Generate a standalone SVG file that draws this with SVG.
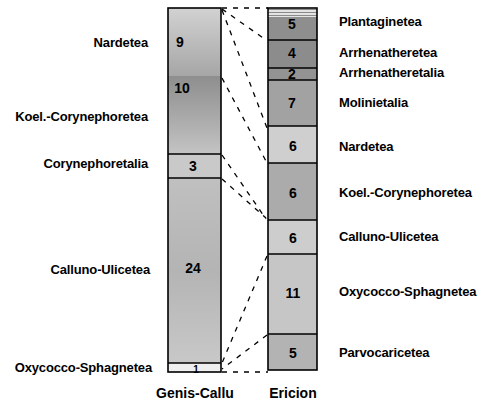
<svg xmlns="http://www.w3.org/2000/svg" width="494" height="414" viewBox="0 0 494 414">
<style>
.lbl{font-family:"Liberation Sans",Arial,sans-serif;font-weight:bold;font-size:13px;fill:#000;letter-spacing:-0.15px}
.num{font-family:"Liberation Sans",Arial,sans-serif;font-weight:bold;font-size:14px;fill:#000;text-anchor:middle}
.ttl{font-family:"Liberation Sans",Arial,sans-serif;font-weight:bold;font-size:14px;fill:#000;text-anchor:middle}
.sep{stroke:#000;stroke-width:1.6}
.box{fill:none;stroke:#000;stroke-width:1.6}
.dash{stroke:#000;stroke-width:1.3;stroke-dasharray:5 6;fill:none}
</style>
<defs>
<linearGradient id="g9" x1="0" y1="0" x2="0" y2="1"><stop offset="0" stop-color="#d2d2d2"/><stop offset="1" stop-color="#a6a6a6"/></linearGradient>
<linearGradient id="g10" x1="0" y1="0" x2="0" y2="1"><stop offset="0" stop-color="#8e8e8e"/><stop offset="0.5" stop-color="#a8a8a8"/><stop offset="1" stop-color="#c4c4c4"/></linearGradient>
<linearGradient id="g24" x1="0" y1="0" x2="0" y2="1"><stop offset="0" stop-color="#c0c0c0"/><stop offset="0.5" stop-color="#b4b4b4"/><stop offset="1" stop-color="#c8c8c8"/></linearGradient>
<pattern id="stripe" width="4" height="3" patternUnits="userSpaceOnUse"><rect width="4" height="3" fill="#e4e4e4"/><rect width="4" height="1" fill="#8a8a8a"/></pattern>
</defs>

<g id="col-genis-callu">
<g id="gc-9"><rect x="168" y="8" width="53" height="68" fill="url(#g9)"/><text class="num" x="180" y="47">9</text></g>
<g id="gc-10"><rect x="168" y="76" width="53" height="78" fill="url(#g10)"/><text class="num" x="182" y="93">10</text></g>
<g id="gc-3"><rect x="168" y="154" width="53" height="24" fill="#c9c9c9"/><text class="num" x="193" y="171">3</text></g>
<g id="gc-24"><rect x="168" y="178" width="53" height="185" fill="url(#g24)"/><text class="num" x="193" y="273">24</text></g>
<g id="gc-1"><rect x="168" y="363" width="53" height="9" fill="#efefef"/><text class="num" x="196" y="373" style="font-size:10px">1</text></g>
<line class="sep" x1="168" y1="154" x2="221" y2="154"/>
<line class="sep" x1="168" y1="178" x2="221" y2="178"/>
<line class="sep" x1="168" y1="363" x2="221" y2="363"/>
<rect class="box" x="168" y="8" width="53" height="364"/>
</g>

<g id="col-ericion">
<g id="er-5a"><rect x="268" y="8" width="49" height="9" fill="url(#stripe)"/><rect x="268" y="17" width="49" height="23" fill="#8e8e8e"/><text class="num" x="292" y="29">5</text></g>
<g id="er-4"><rect x="268" y="40" width="49" height="28" fill="#8c8c8c"/><text class="num" x="292" y="58">4</text></g>
<g id="er-2"><rect x="268" y="68" width="49" height="12" fill="#939393"/><text class="num" x="292" y="79">2</text></g>
<g id="er-7"><rect x="268" y="80" width="49" height="46" fill="#a2a2a2"/><text class="num" x="292" y="108">7</text></g>
<g id="er-6a"><rect x="268" y="126" width="49" height="37" fill="#cfcfcf"/><text class="num" x="293" y="151">6</text></g>
<g id="er-6b"><rect x="268" y="163" width="49" height="57" fill="#ababab"/><text class="num" x="293" y="198">6</text></g>
<g id="er-6c"><rect x="268" y="220" width="49" height="34" fill="#cdcdcd"/><text class="num" x="293" y="243">6</text></g>
<g id="er-11"><rect x="268" y="254" width="49" height="80" fill="#c6c6c6"/><text class="num" x="293" y="298">11</text></g>
<g id="er-5b"><rect x="268" y="334" width="49" height="36" fill="#b3b3b3"/><text class="num" x="293" y="358">5</text></g>
<line class="sep" x1="268" y1="40" x2="317" y2="40"/>
<line class="sep" x1="268" y1="68" x2="317" y2="68"/>
<line class="sep" x1="268" y1="80" x2="317" y2="80"/>
<line class="sep" x1="268" y1="126" x2="317" y2="126"/>
<line class="sep" x1="268" y1="163" x2="317" y2="163"/>
<line class="sep" x1="268" y1="220" x2="317" y2="220"/>
<line class="sep" x1="268" y1="254" x2="317" y2="254"/>
<line class="sep" x1="268" y1="334" x2="317" y2="334"/>
<rect class="box" x="268" y="8" width="49" height="362"/>
</g>

<g id="connectors">
<line class="dash" x1="222" y1="8" x2="268" y2="8"/>
<line class="dash" x1="222" y1="9" x2="266" y2="40"/>
<line class="dash" x1="222" y1="10" x2="267" y2="128"/>
<line class="dash" x1="222" y1="78" x2="267" y2="163"/>
<line class="dash" x1="222" y1="155" x2="266" y2="219"/>
<line class="dash" x1="222" y1="179" x2="266" y2="218"/>
<line class="dash" x1="267" y1="256" x2="222" y2="363"/>
<line class="dash" x1="267" y1="335" x2="222" y2="369"/>
<line class="dash" x1="222" y1="372" x2="268" y2="372"/>
</g>

<g id="labels-left" style="text-anchor:end">
<text class="lbl" x="148" y="47">Nardetea</text>
<text class="lbl" x="148" y="121">Koel.-Corynephoretea</text>
<text class="lbl" x="148" y="168">Corynephoretalia</text>
<text class="lbl" x="150" y="274">Calluno-Ulicetea</text>
<text class="lbl" x="152" y="372">Oxycocco-Sphagnetea</text>
</g>

<g id="labels-right">
<text class="lbl" x="339" y="26">Plantaginetea</text>
<text class="lbl" x="339" y="57">Arrhenatheretea</text>
<text class="lbl" x="339" y="77">Arrhenatheretalia</text>
<text class="lbl" x="339" y="107">Molinietalia</text>
<text class="lbl" x="339" y="151">Nardetea</text>
<text class="lbl" x="339" y="197">Koel.-Corynephoretea</text>
<text class="lbl" x="339" y="241">Calluno-Ulicetea</text>
<text class="lbl" x="339" y="296">Oxycocco-Sphagnetea</text>
<text class="lbl" x="339" y="357">Parvocaricetea</text>
</g>

<g id="titles">
<text class="ttl" x="195" y="398">Genis-Callu</text>
<text class="ttl" x="293" y="398">Ericion</text>
</g>
</svg>
